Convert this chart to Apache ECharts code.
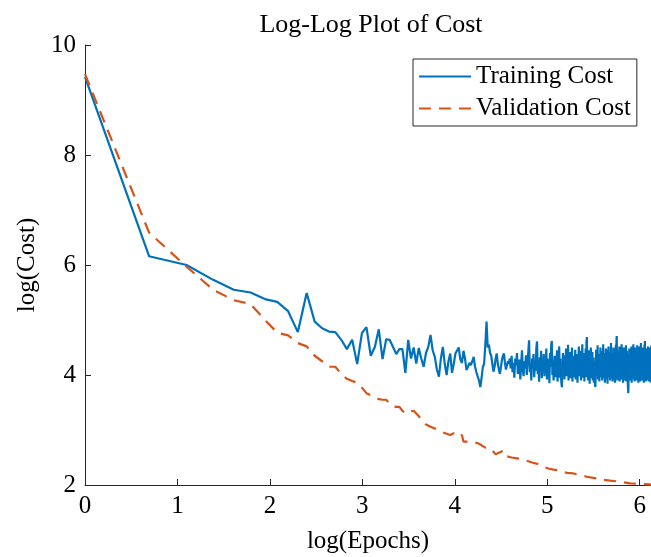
<!DOCTYPE html>
<html>
<head>
<meta charset="utf-8">
<script src="https://cdn.jsdelivr.net/npm/echarts@6/dist/echarts.min.js"></script>
<style>
html,body{margin:0;padding:0;background:#fff;}
#chart{width:651px;height:557px;}
</style>
</head>
<body>
<div id="chart"></div>
<script>
const FONT = "'Liberation Serif', 'DejaVu Serif', serif";
const AXIS = "#262626";

// training cost, one value per epoch (epoch = index + 1)
const trainCost = [
  9.42, 6.16, 6.00, 5.73, 5.55, 5.50, 5.38, 5.33, 5.16, 4.78,
  5.49, 4.97, 4.85, 4.79, 4.78, 4.64, 4.47, 4.64, 4.20, 4.76,
  4.87, 4.35, 4.51, 4.83, 4.29, 4.65, 4.64, 4.51, 4.38, 4.47,
  4.47, 4.04, 4.64, 4.30, 4.50, 4.21, 4.49, 4.30, 4.15, 4.40,
  4.51, 4.73, 4.45, 4.33, 4.10, 3.97, 4.30, 4.51, 4.20, 4.00,
  4.25, 4.39, 4.04, 4.20, 4.39, 4.42, 4.50, 4.28, 4.22, 4.44,
  4.30, 4.09, 4.15, 4.22, 4.18, 4.25, 4.33, 4.15, 4.05, 3.97,
  3.90, 3.78, 3.95, 4.15, 4.20, 4.55, 4.97, 4.50, 4.55, 4.40,
  4.35, 4.20, 4.06, 4.15, 4.30, 4.39, 4.20, 4.10, 4.02, 4.15,
  4.28, 4.35, 4.39, 4.22, 4.10, 4.09, 4.25, 4.20, 4.30, 4.12,
  4.35, 4.05, 4.22, 3.95, 4.30, 4.18, 4.40, 4.02, 4.15, 4.28, 3.92, 4.20, 4.45, 4.10, 3.98, 4.25, 4.12, 4.36, 4.00, 4.22,
  4.42, 4.63, 4.05, 4.18, 3.90, 4.30, 4.15, 4.38, 3.96, 4.24, 4.08, 4.50, 4.61, 4.02, 4.20, 3.88, 4.32, 4.10, 4.44, 3.94,
  4.26, 4.05, 4.38, 3.98, 4.20, 4.12, 4.48, 3.92, 4.30, 4.06, 4.22, 3.85, 4.40, 4.15, 4.55, 4.62, 4.00, 4.25, 3.90, 4.18,
  4.35, 3.96, 4.28, 4.08, 4.45, 3.88, 4.20, 4.12, 4.52, 3.95, 4.30, 4.02, 3.86, 3.78, 4.10, 4.40, 4.05, 4.25, 3.92, 4.36,
  4.15, 4.48, 3.98, 4.22, 4.05, 4.55, 3.90, 4.30, 4.10, 4.42, 3.94, 4.26, 4.08, 4.50, 3.88, 4.18, 4.35, 3.96, 4.24, 4.12,
  4.46, 3.92, 4.28, 4.04, 4.38, 3.86, 4.20, 4.14, 4.52, 3.98, 4.32, 4.06, 4.44, 3.90, 4.22, 4.10, 4.56, 3.95, 4.30, 4.02,
  4.40, 3.88, 4.25, 4.12, 4.48, 3.96, 4.60, 4.69, 4.05, 4.20, 3.90, 4.35, 4.08, 4.45, 3.84, 4.22, 4.15, 4.50, 3.94, 4.28,
  4.06, 4.42, 3.90, 4.18, 4.32, 3.86, 4.25, 4.02, 3.82, 3.78, 4.12, 4.46, 3.98, 4.30, 4.10, 4.54, 3.92, 4.24, 4.05, 4.38,
  3.88, 4.20, 4.14, 4.50, 3.96, 4.28, 4.04, 4.44, 3.90, 4.22, 4.12, 4.56, 3.94, 4.32, 4.06, 4.40, 3.86, 4.18, 4.26, 4.48,
  3.92, 4.30, 4.08, 4.46, 3.84, 4.24, 4.14, 4.52, 3.96, 4.36, 4.02, 4.42, 3.90, 4.20, 4.10, 4.58, 3.94, 4.28, 4.06, 4.40,
  3.88, 4.22, 4.16, 4.50, 3.92, 4.34, 4.04, 4.46, 3.86, 4.26, 4.12, 4.55, 3.98, 4.62, 4.71, 4.10, 3.90, 4.30, 4.05, 4.44,
  3.94, 4.24, 4.12, 4.52, 3.88, 4.36, 4.02, 4.48, 3.92, 4.20, 4.14, 4.56, 3.96, 4.30, 4.06, 4.42, 3.86, 4.26, 4.10, 4.50,
  3.90, 4.34, 4.04, 4.46, 3.94, 4.22, 4.16, 4.54, 3.88, 4.28, 4.08, 4.44, 3.92, 4.18, 3.84, 3.74, 3.67, 4.00, 4.32, 4.12,
  4.48, 3.96, 4.26, 4.06, 4.40, 3.90, 4.20, 4.14, 4.52, 3.86, 4.34, 4.02, 4.46, 3.94, 4.24, 4.10, 4.56, 3.92, 4.30, 4.05,
  4.42, 3.88, 4.22, 4.16, 4.50, 3.94, 4.36, 4.04, 4.48, 3.90, 4.26, 4.12, 4.54, 3.96, 4.30, 4.08, 4.44, 3.86, 4.20, 4.14,
  4.52, 3.92, 4.34, 4.06, 4.46, 3.88, 4.24, 4.10, 4.58, 3.94, 4.28, 4.02, 4.40, 3.90, 4.22, 4.16, 4.50, 3.96, 4.32, 4.06,
  4.44, 3.86, 4.26, 4.12, 4.55, 3.92, 4.62, 4.65, 4.00, 4.30, 3.88, 4.20, 4.14, 4.48, 3.94, 4.36, 4.04, 4.46, 3.90, 4.24,
  4.10, 4.52, 3.96, 4.30, 4.06, 4.42, 3.88, 4.22, 4.16, 4.50, 3.92, 4.34, 4.02, 4.48, 3.86, 4.26, 4.12, 4.54, 3.94, 4.30
];

const valEpochs = [
  1, 2, 3, 4, 5, 6, 7, 8, 9, 10, 11, 12, 13, 14, 15, 16, 17, 18, 19, 20,
  21, 22, 23, 24, 25, 26, 27, 28, 29, 30, 31, 32, 33, 34, 35, 36, 37, 38, 39, 40,
  42, 45, 47, 48, 52, 54, 56, 59, 60, 66, 71, 76, 80, 85, 92, 94, 101, 109, 119, 126,
  135, 143, 150, 159, 171, 184, 197, 212, 228, 244, 268, 293, 326, 364, 405, 451, 460
];
const valCost = [
  9.47, 6.59, 5.97, 5.55, 5.36, 5.29, 5.00, 4.77, 4.72, 4.58, 4.52, 4.35, 4.25, 4.15, 4.15, 4.02, 3.93, 3.89, 3.86, 3.77,
  3.67, 3.63, 3.60, 3.56, 3.55, 3.55, 3.48, 3.43, 3.42, 3.42, 3.35, 3.30, 3.32, 3.34, 3.35, 3.30, 3.25, 3.20, 3.15, 3.10,
  3.06, 3.01, 2.97, 3.00, 2.91, 2.94, 2.88, 2.91, 2.79, 2.79, 2.75, 2.68, 2.67, 2.56, 2.62, 2.53, 2.50, 2.48, 2.44, 2.41,
  2.38, 2.33, 2.30, 2.28, 2.26, 2.22, 2.21, 2.18, 2.15, 2.13, 2.10, 2.08, 2.06, 2.03, 2.02, 2.01, 2.00
];

const xTicks = [0, 1, 2, 3, 4, 5, 6];
const yTicks = [2, 4, 6, 8, 10];

const trainData = trainCost.map((v, i) => [Math.log(i + 1), v]);
const valData = valCost.map((v, i) => [Math.log(valEpochs[i]), v]);

const txt = (size) => ({ fontFamily: FONT, fontSize: size, color: "#000" });

const chart = echarts.init(document.getElementById("chart"));
chart.setOption({
  animation: false,
  backgroundColor: "#fff",
  title: {
    text: "Log-Log Plot of Cost",
    left: 366, top: 7, textAlign: "center",
    textStyle: { ...txt(26), fontWeight: "normal" }
  },
  grid: { left: 85, right: 0, top: 45, bottom: 72, outerBoundsMode: "none", containLabel: false },
  legend: {
    orient: "vertical", left: 413, top: 59,
    padding: [5, 6, 5, 5], itemGap: 7,
    itemWidth: 52, itemHeight: 22,
    borderColor: AXIS, borderWidth: 1, backgroundColor: "#fff",
    itemStyle: { opacity: 0 },
    textStyle: txt(25),
    data: ["Training Cost", "Validation Cost"]
  },
  xAxis: {
    type: "value", min: 0, max: 6.123, interval: 1,
    name: "log(Epochs)", nameLocation: "middle", nameGap: 44,
    nameTextStyle: txt(25),
    axisLine: { lineStyle: { color: AXIS, width: 1 } },
    axisTick: { inside: true, length: 6, lineStyle: { color: AXIS },
      customValues: xTicks },
    axisLabel: { ...txt(25), margin: 9, customValues: xTicks,
      formatter: (v) => String(v) },
    splitLine: { show: false }
  },
  yAxis: {
    type: "value", min: 2, max: 10, interval: 2,
    name: "log(Cost)", nameLocation: "middle", nameGap: 43, nameRotate: 90,
    nameTextStyle: txt(25),
    axisLine: { lineStyle: { color: AXIS, width: 1 } },
    axisTick: { inside: true, length: 6, lineStyle: { color: AXIS },
      customValues: yTicks },
    axisLabel: { ...txt(25), margin: 9, customValues: yTicks },
    splitLine: { show: false }
  },
  series: [
    {
      name: "Training Cost", type: "line", data: trainData,
      symbol: "none", clip: true,
      lineStyle: { color: "#0072BD", width: 2.2 },
      itemStyle: { color: "#0072BD" }
    },
    {
      name: "Validation Cost", type: "line", data: valData,
      symbol: "none", clip: true,
      lineStyle: { color: "#D95319", width: 2.2, type: [12, 8] },
      itemStyle: { color: "#D95319" }
    }
  ]
});
</script>
</body>
</html>
